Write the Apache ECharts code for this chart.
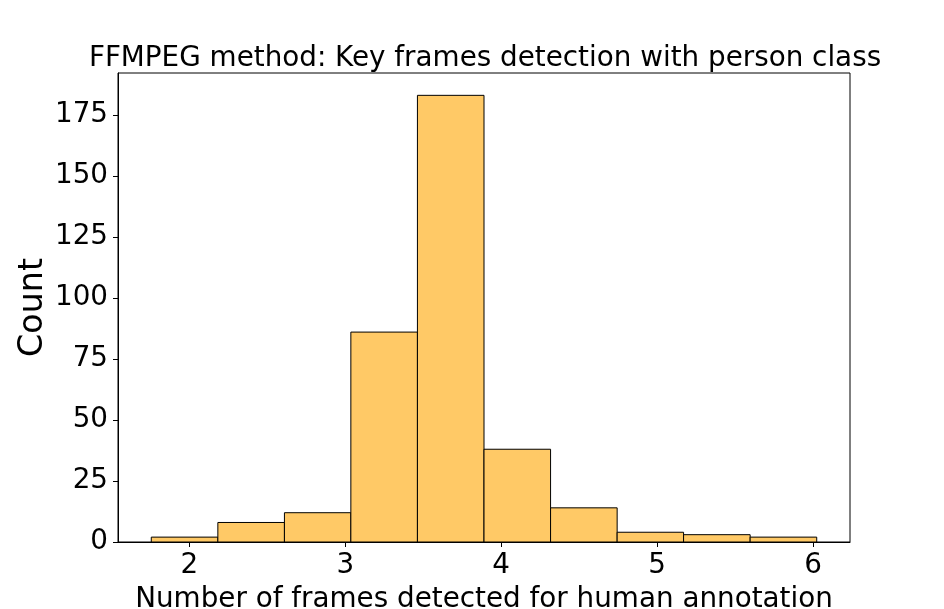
<!DOCTYPE html>
<html>
<head>
<meta charset="utf-8">
<script src="https://cdn.jsdelivr.net/npm/echarts@6/dist/echarts.min.js"></script>
<style>
html,body{margin:0;padding:0;background:#fff;}
#chart{width:944px;height:609px;}
</style>
</head>
<body>
<div id="chart"></div>
<script>
const titleText = 'FFMPEG method: Key frames detection with person class';
const xLabel = 'Number of frames detected for human annotation';
const yLabel = 'Count';
const binEdges = [1.756, 2.183, 2.610, 3.036, 3.463, 3.890, 4.317, 4.744, 5.170, 5.597, 6.024];
const counts = [2, 8, 12, 86, 183, 38, 14, 4, 3, 2];
const xTicks = [2, 3, 4, 5, 6];
const yTicks = [0, 25, 50, 75, 100, 125, 150, 175];

const FONT = 'DejaVu Sans';
const span = binEdges[binEdges.length - 1] - binEdges[0];
const xMin = binEdges[0] - 0.05 * span;
const xMax = binEdges[binEdges.length - 1] + 0.05 * span;
const yMax = Math.max(...counts) * 1.05;

const barData = counts.map((c, i) => [binEdges[i], binEdges[i + 1], c]);

const chart = echarts.init(document.getElementById('chart'), null, {renderer: 'canvas'});
chart.setOption({
  backgroundColor: '#ffffff',
  animation: false,
  title: {
    text: titleText,
    left: 480,
    textAlign: 'center',
    top: 40,
    textStyle: {fontFamily: FONT, fontSize: 27.8, fontWeight: 'normal', color: '#000'}
  },
  grid: {
    left: 118, right: 94, top: 73, bottom: 67,
    containLabel: false,
    outerBoundsMode: 'none',
    show: true, borderColor: '#000', borderWidth: 1, backgroundColor: 'transparent'
  },
  xAxis: {
    type: 'value',
    min: xMin,
    max: xMax,
    name: xLabel,
    nameLocation: 'middle',
    nameGap: 44,
    nameTextStyle: {fontFamily: FONT, fontSize: 27.8, color: '#000'},
    axisLine: {show: true, lineStyle: {color: '#000', width: 1}},
    axisTick: {show: true, length: 5, lineStyle: {color: '#000', width: 1}, customValues: xTicks},
    axisLabel: {fontFamily: FONT, fontSize: 27.8, color: '#000', margin: 10, customValues: xTicks},
    splitLine: {show: false}
  },
  yAxis: {
    type: 'value',
    min: 0,
    max: yMax,
    name: yLabel,
    nameLocation: 'middle',
    nameGap: 68,
    nameMoveOverlap: false,
    nameRotate: 90,
    nameTextStyle: {fontFamily: FONT, fontSize: 33.3, color: '#000'},
    axisLine: {show: true, lineStyle: {color: '#000', width: 1}},
    axisTick: {show: true, length: 5, lineStyle: {color: '#000', width: 1}, customValues: yTicks},
    axisLabel: {fontFamily: FONT, fontSize: 27.8, color: '#000', margin: 10, customValues: yTicks},
    splitLine: {show: false}
  },
  series: [{
    type: 'custom',
    data: barData,
    encode: {x: [0, 1], y: 2},
    renderItem: function (params, api) {
      const p0 = api.coord([api.value(0), api.value(2)]);
      const p1 = api.coord([api.value(1), 0]);
      return {
        type: 'rect',
        shape: {x: p0[0], y: p0[1], width: p1[0] - p0[0], height: p1[1] - p0[1]},
        style: {fill: '#FFC966', stroke: '#000', lineWidth: 1}
      };
    }
  }]
});
</script>
</body>
</html>
